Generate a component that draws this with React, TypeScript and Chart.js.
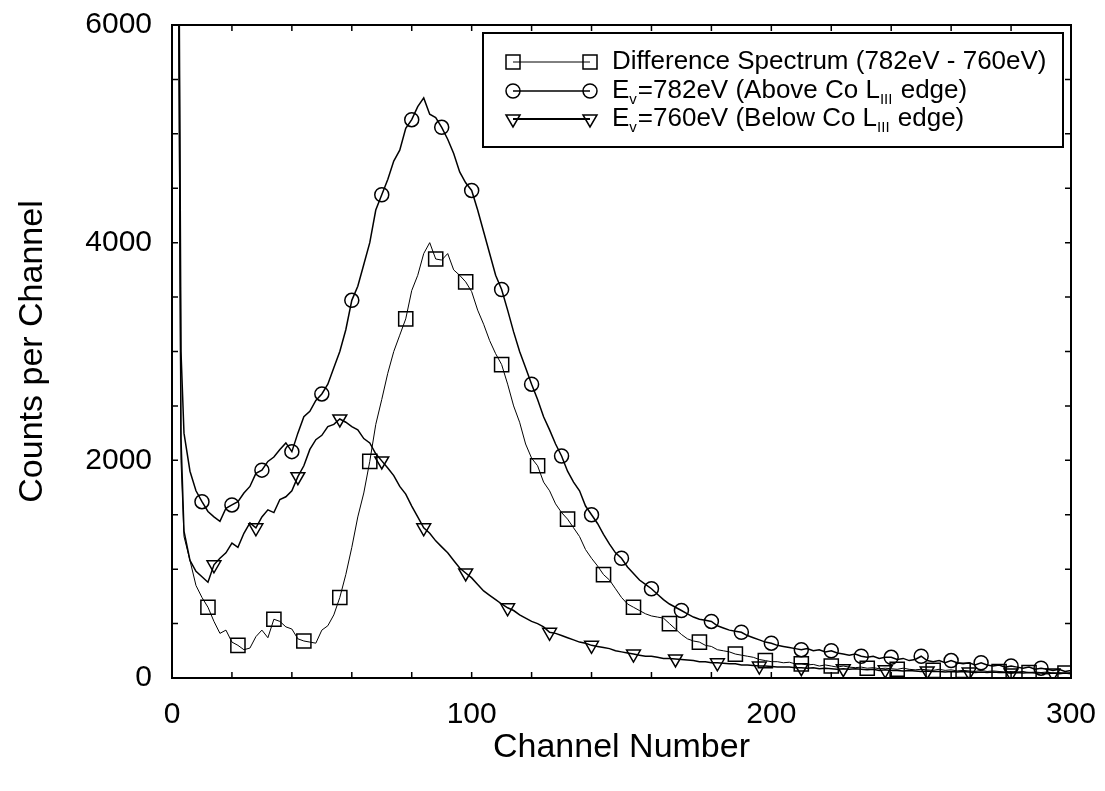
import React, { useEffect, useRef } from 'react';
import { Chart, registerables } from 'chart.js';

Chart.register(...registerables);

const FONT = "'Liberation Sans', Arial, Helvetica, sans-serif";

// Channel numbers at which the spectra are sampled
const CHANNELS = [
  1, 2, 3, 4,
  6, 8, 10, 12, 14, 16, 18, 20, 22, 24,
  26, 28, 30, 32, 34, 36, 38, 40, 42, 44,
  46, 48, 50, 52, 54, 56, 58, 60, 62, 64,
  66, 68, 70, 72, 74, 76, 78, 80, 82, 84,
  86, 88, 90, 92, 94, 96, 98, 100, 102, 104,
  106, 108, 110, 112, 114, 116, 118, 120, 122, 124,
  126, 128, 130, 132, 134, 136, 138, 140, 142, 144,
  146, 148, 150, 152, 154, 156, 158, 160, 162, 164,
  166, 168, 170, 172, 174, 176, 178, 180, 182, 184,
  186, 188, 190, 192, 194, 196, 198, 200, 202, 204,
  206, 208, 210, 212, 214, 216, 218, 220, 222, 224,
  226, 228, 230, 232, 234, 236, 238, 240, 242, 244,
  246, 248, 250, 252, 254, 256, 258, 260, 262, 264,
  266, 268, 270, 272, 274, 276, 278, 280, 282, 284,
  286, 288, 290, 292, 294, 296, 298, 300,
];

// Difference spectrum (782eV - 760eV)
const DIFF = [
  8500, 7000, 2000, 1300,
  1080, 850, 740, 650, 520, 410, 440, 330, 300, 260,
  275, 380, 440, 370, 540, 520, 470, 450, 360, 340,
  330, 320, 440, 480, 580, 740, 950, 1200, 1480, 1700,
  1990, 2330, 2560, 2800, 3000, 3150, 3300, 3560, 3700, 3900,
  4000, 3850, 3840, 3900, 3750, 3700, 3640, 3550, 3380, 3250,
  3100, 2980, 2880, 2700, 2500, 2350, 2150, 2020, 1950, 1800,
  1720, 1600, 1520, 1460, 1380, 1300, 1180, 1100, 1030, 950,
  900, 820, 740, 680, 650, 620, 590, 570, 560, 550,
  500, 450, 400, 360, 340, 330, 300, 290, 260, 250,
  240, 220, 210, 200, 190, 170, 160, 150, 150, 140,
  145, 130, 130, 120, 125, 110, 120, 110, 100, 110,
  100, 95, 100, 90, 95, 85, 90, 85, 80, 90,
  80, 75, 80, 75, 70, 80, 70, 75, 65, 70,
  65, 60, 70, 60, 65, 60, 55, 60, 55, 60,
  50, 55, 50, 55, 45, 50, 45, 50,
];

// Ev = 782eV (above Co L-III edge)
const ABOVE = [
  9000, 8500, 3000, 2250,
  1900, 1720, 1620, 1530, 1480, 1440, 1560, 1590, 1620, 1700,
  1760, 1880, 1910, 1990, 2030, 2100, 2160, 2080, 2250, 2400,
  2450, 2550, 2610, 2700, 2850, 3000, 3200, 3470, 3600, 3800,
  4000, 4300, 4440, 4580, 4750, 4850, 5050, 5130, 5250, 5330,
  5180, 5150, 5060, 4950, 4820, 4650, 4550, 4480, 4300, 4100,
  3900, 3700, 3570, 3380, 3180, 3000, 2850, 2700, 2560, 2400,
  2280, 2150, 2040, 1900, 1800, 1720, 1580, 1500, 1420, 1320,
  1230, 1150, 1100, 1020, 960, 900, 860, 820, 770, 720,
  680, 650, 620, 590, 560, 540, 530, 520, 480, 460,
  440, 430, 420, 390, 370, 350, 330, 320, 300, 290,
  280, 270, 260, 270, 250, 260, 240, 250, 230, 220,
  210, 220, 200, 190, 200, 180, 190, 190, 170, 180,
  160, 170, 200, 160, 150, 160, 140, 160, 140, 130,
  140, 120, 140, 120, 110, 120, 100, 110, 100, 90,
  100, 80, 90, 80, 70, 80, 60, 70,
];

// Ev = 760eV (below Co L-III edge)
const BELOW = [
  9000, 8000, 2200, 1350,
  1080, 980, 930, 880, 1040, 1100, 1150, 1240, 1200, 1330,
  1425, 1380, 1480, 1545, 1520, 1640, 1665, 1720, 1850, 1950,
  2100, 2190, 2230, 2310, 2330, 2380, 2350, 2310, 2280, 2200,
  2160, 2060, 1995, 1930, 1860, 1760, 1690, 1580, 1480, 1380,
  1330, 1260, 1205, 1150, 1080, 1010, 965, 920, 860, 800,
  760, 720, 680, 645, 620, 580, 550, 520, 500, 470,
  420, 410, 390, 370, 350, 330, 320, 300, 290, 280,
  270, 250, 240, 230, 220, 210, 200, 200, 190, 180,
  180, 175, 170, 165, 160, 150, 150, 140, 140, 135,
  130, 130, 120, 120, 115, 110, 110, 105, 100, 100,
  100, 95, 95, 90, 95, 85, 90, 85, 80, 85,
  80, 85, 80, 75, 80, 70, 75, 70, 70, 65,
  70, 65, 60, 65, 60, 60, 55, 60, 55, 60,
  55, 50, 55, 50, 55, 50, 50, 45, 50, 45,
  50, 45, 45, 40, 45, 40, 45, 40,
];

// Channels carrying a marker
const DIFF_MARKS = [12, 22, 34, 44, 56, 66, 78, 88, 98, 110, 122, 132, 144, 154, 166, 176, 188, 198, 210, 220, 232, 242, 254, 264, 276, 286, 298];
const ABOVE_MARKS = [10, 20, 30, 40, 50, 60, 70, 80, 90, 100, 110, 120, 130, 140, 150, 160, 170, 180, 190, 200, 210, 220, 230, 240, 250, 260, 270, 280, 290];
const BELOW_MARKS = [14, 28, 42, 56, 70, 84, 98, 112, 126, 140, 154, 168, 182, 196, 210, 224, 238, 252, 266, 280, 294];

const X_LABELED = [0, 100, 200, 300];
const Y_LABELED = [0, 2000, 4000, 6000];

type Part = { t: string; sub?: boolean };
const LEGEND_ROWS: Part[][] = [
  [{ t: 'Difference Spectrum (782eV - 760eV)' }],
  [{ t: 'E' }, { t: 'v', sub: true }, { t: '=782eV (Above Co L' }, { t: 'III', sub: true }, { t: ' edge)' }],
  [{ t: 'E' }, { t: 'v', sub: true }, { t: '=760eV (Below Co L' }, { t: 'III', sub: true }, { t: ' edge)' }],
];
const LEGEND_MARKERS = ['rect', 'circle', 'triangle'];
const LEGEND_LINE_WIDTHS = [1, 1.5, 2];

function drawMarker(ctx: CanvasRenderingContext2D, kind: string, x: number, y: number) {
  ctx.beginPath();
  if (kind === 'circle') {
    ctx.arc(x, y, 7, 0, Math.PI * 2);
  } else if (kind === 'rect') {
    ctx.rect(x - 7, y - 7, 14, 14);
  } else {
    ctx.moveTo(x - 7, y - 4);
    ctx.lineTo(x + 7, y - 4);
    ctx.lineTo(x, y + 8);
    ctx.closePath();
  }
  ctx.stroke();
}

const framePlugin = {
  id: 'frameTicks',
  afterDatasetsDraw(chart: any) {
    const ctx: CanvasRenderingContext2D = chart.ctx;
    const { left, right, top, bottom } = chart.chartArea;
    ctx.save();
    ctx.strokeStyle = '#000';
    ctx.lineWidth = 2;
    ctx.strokeRect(left, top, right - left, bottom - top);
    ctx.lineWidth = 1.5;
    const xs = chart.scales.x;
    const ys = chart.scales.y;
    xs.ticks.forEach((t: any) => {
      const px = xs.getPixelForValue(t.value);
      const len = 6;
      ctx.beginPath();
      ctx.moveTo(px, bottom);
      ctx.lineTo(px, bottom - len);
      ctx.moveTo(px, top);
      ctx.lineTo(px, top + len);
      ctx.stroke();
    });
    ys.ticks.forEach((t: any) => {
      const py = ys.getPixelForValue(t.value);
      const len = 6;
      ctx.beginPath();
      ctx.moveTo(left, py);
      ctx.lineTo(left + len, py);
      ctx.moveTo(right, py);
      ctx.lineTo(right - len, py);
      ctx.stroke();
    });
    ctx.restore();
  },
};

const legendPlugin = {
  id: 'customLegend',
  afterDraw(chart: any) {
    const ctx: CanvasRenderingContext2D = chart.ctx;
    const area = chart.chartArea;
    const bx = area.left + 311;
    const by = area.top + 8;
    const bw = 580;
    const bh = 114;
    ctx.save();
    ctx.fillStyle = '#fff';
    ctx.fillRect(bx, by, bw, bh);
    ctx.strokeStyle = '#000';
    ctx.lineWidth = 2;
    ctx.strokeRect(bx, by, bw, bh);
    const rowY = [by + 29, by + 58, by + 86];
    LEGEND_ROWS.forEach((parts, i) => {
      const y = rowY[i];
      const x1 = bx + 30;
      const x2 = bx + 107;
      ctx.lineWidth = LEGEND_LINE_WIDTHS[i];
      ctx.beginPath();
      ctx.moveTo(x1, y);
      ctx.lineTo(x2, y);
      ctx.stroke();
      ctx.lineWidth = 1.5;
      drawMarker(ctx, LEGEND_MARKERS[i], x1, y);
      drawMarker(ctx, LEGEND_MARKERS[i], x2, y);
      let tx = bx + 129;
      ctx.fillStyle = '#000';
      ctx.textBaseline = 'middle';
      ctx.textAlign = 'left';
      parts.forEach((p) => {
        ctx.font = p.sub ? `15px ${FONT}` : `26px ${FONT}`;
        const ty = p.sub ? y + 9 : y;
        ctx.fillText(p.t, tx, ty);
        tx += ctx.measureText(p.t).width + (p.sub ? 1 : 0);
      });
    });
    ctx.restore();
  },
};

function series(values: number[]) {
  return CHANNELS.map((c, i) => ({ x: c, y: values[i] }));
}

function markerRadius(marks: number[], r: number) {
  return (ctx: any) => (marks.includes(CHANNELS[ctx.dataIndex]) ? r : 0);
}

export default function App() {
  const canvasRef = useRef<HTMLCanvasElement | null>(null);

  useEffect(() => {
    if (!canvasRef.current) return;
    const chart = new Chart(canvasRef.current, {
      type: 'line',
      data: {
        datasets: [
          {
            label: 'Difference Spectrum (782eV - 760eV)',
            data: series(DIFF),
            borderColor: '#000',
            borderWidth: 1,
            pointStyle: 'rect',
            pointRadius: markerRadius(DIFF_MARKS, 10),
            pointBorderColor: '#000',
            pointBackgroundColor: 'rgba(0,0,0,0)',
            pointBorderWidth: 1.5,
            tension: 0,
          },
          {
            label: 'Ev=782eV (Above Co LIII edge)',
            data: series(ABOVE),
            borderColor: '#000',
            borderWidth: 1.5,
            pointStyle: 'circle',
            pointRadius: markerRadius(ABOVE_MARKS, 7),
            pointBorderColor: '#000',
            pointBackgroundColor: 'rgba(0,0,0,0)',
            pointBorderWidth: 1.5,
            tension: 0,
          },
          {
            label: 'Ev=760eV (Below Co LIII edge)',
            data: series(BELOW),
            borderColor: '#000',
            borderWidth: 1.5,
            pointStyle: 'triangle',
            pointRotation: 180,
            pointRadius: markerRadius(BELOW_MARKS, 8),
            pointBorderColor: '#000',
            pointBackgroundColor: 'rgba(0,0,0,0)',
            pointBorderWidth: 1.5,
            tension: 0,
          },
        ],
      },
      options: {
        animation: false,
        responsive: true,
        maintainAspectRatio: false,
        layout: { padding: { top: 25, right: 34, left: 0, bottom: 0 } },
        plugins: {
          legend: { display: false },
          tooltip: { enabled: false },
        },
        scales: {
          x: {
            type: 'linear',
            min: 0,
            max: 300,
            afterFit: (s: any) => {
              s.height = 113;
              s.paddingLeft = 0;
              s.paddingRight = 0;
            },
            grid: { display: false, drawTicks: false },
            border: { display: false },
            ticks: {
              stepSize: 20,
              autoSkip: false,
              maxRotation: 0,
              padding: 19,
              color: '#000',
              font: { family: FONT, size: 30 },
              callback: (v: any) => (X_LABELED.includes(Number(v)) ? String(v) : ''),
            },
            title: {
              display: true,
              text: 'Channel Number',
              color: '#000',
              font: { family: FONT, size: 34 },
              padding: { top: 0, bottom: 23 },
            },
          },
          y: {
            type: 'linear',
            min: 0,
            max: 6000,
            afterFit: (s: any) => {
              s.width = 172;
              s.paddingTop = 0;
              s.paddingBottom = 0;
            },
            grid: { display: false, drawTicks: false },
            border: { display: false },
            ticks: {
              stepSize: 500,
              autoSkip: false,
              padding: 20,
              color: '#000',
              font: { family: FONT, size: 30 },
              callback: (v: any) => (Y_LABELED.includes(Number(v)) ? String(v) : ''),
            },
            title: {
              display: true,
              text: 'Counts per Channel',
              color: '#000',
              font: { family: FONT, size: 34 },
              padding: { top: 12, bottom: 0 },
            },
          },
        },
      },
      plugins: [framePlugin, legendPlugin],
    } as any);
    return () => chart.destroy();
  }, []);

  return (
    <div style={{ position: 'fixed', left: 0, top: 0, width: 1105, height: 791, background: '#fff' }}>
      <canvas ref={canvasRef} />
    </div>
  );
}
